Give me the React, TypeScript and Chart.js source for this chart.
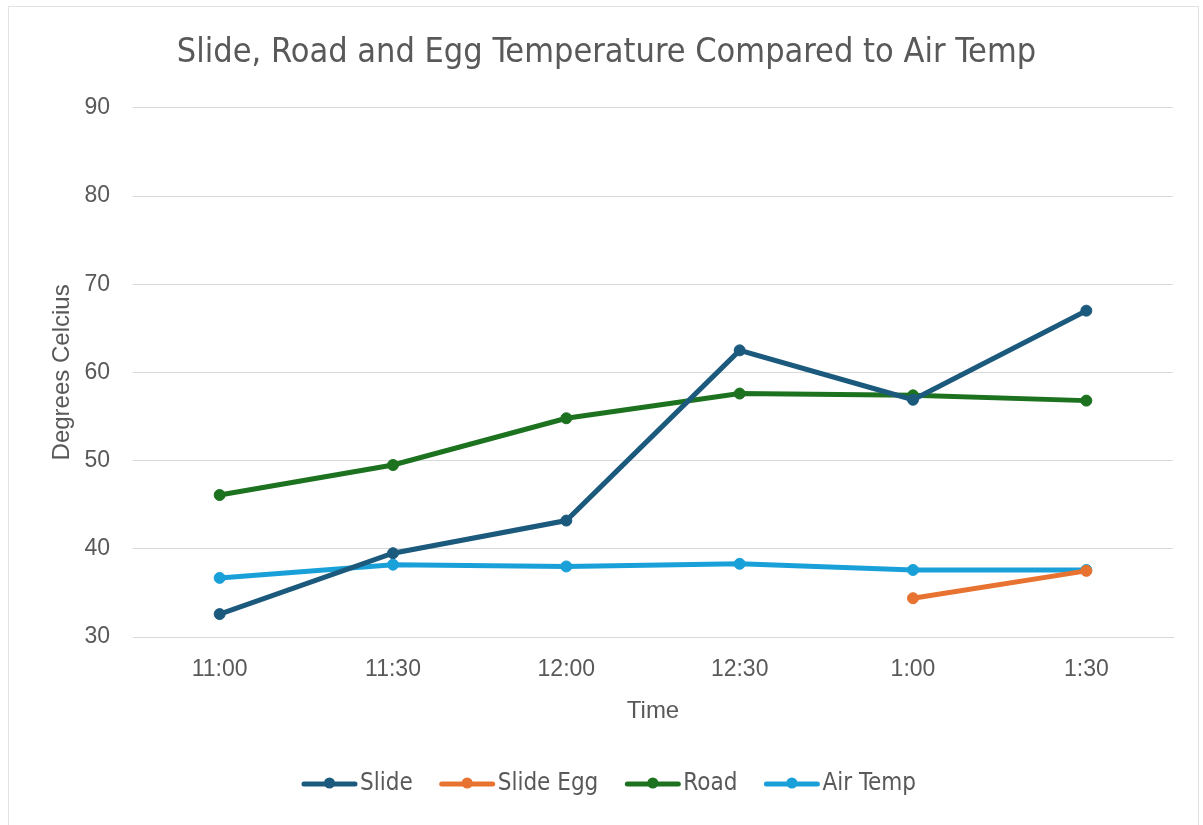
import { useEffect, useRef } from "react";
import { Chart, registerables } from "chart.js";

Chart.register(...registerables);

const categories = ["11:00", "11:30", "12:00", "12:30", "1:00", "1:30"];
const slide = [32.6, 39.5, 43.2, 62.5, 56.9, 67.0];
const slideEgg = [null, null, null, null, 34.4, 37.5];
const road = [46.1, 49.5, 54.8, 57.6, 57.4, 56.8];
const airTemp = [36.7, 38.2, 38.0, 38.3, 37.6, 37.6];
const seriesNames = ["Slide", "Slide Egg", "Road", "Air Temp"];
const seriesColors = ["#1c5a7d", "#e8722f", "#1d7220", "#1aa0d9"];
const yMin = 30;
const yMax = 90;
const yStep = 10;

const TEXT = "#595959";
const GRID = "#d9d9d9";
const NARROW = "'Liberation Sans Narrow', 'DejaVu Sans Condensed', 'Roboto Condensed', Roboto, sans-serif";
const SANS = "'Liberation Sans', Arial, sans-serif";

const frameAndLegend = {
  id: "frameAndLegend",
  beforeDraw(chart: any) {
    const ctx = chart.ctx;
    ctx.save();
    ctx.fillStyle = "#ffffff";
    ctx.fillRect(0, 0, chart.width, chart.height);
    ctx.strokeStyle = "#e3e3e3";
    ctx.lineWidth = 1;
    ctx.strokeRect(8.5, 6.5, 1190, 830);
    ctx.restore();
  },
  afterDraw(chart: any) {
    const ctx = chart.ctx;
    ctx.save();
    ctx.font = `24px ${NARROW}`;
    const lineLen = 55;
    const textGap = 3;
    const itemGap = 27;
    const widths = seriesNames.map((n) => lineLen + textGap + ctx.measureText(n).width);
    const total = widths.reduce((a, b) => a + b, 0) + itemGap * (seriesNames.length - 1);
    let x = 609 - total / 2;
    const y = 784;
    seriesNames.forEach((name, i) => {
      ctx.strokeStyle = seriesColors[i];
      ctx.fillStyle = seriesColors[i];
      ctx.lineWidth = 5;
      ctx.lineCap = "round";
      ctx.beginPath();
      ctx.moveTo(x + 2, y);
      ctx.lineTo(x + lineLen - 2, y);
      ctx.stroke();
      ctx.beginPath();
      ctx.arc(x + lineLen / 2, y - 1, 5.5, 0, Math.PI * 2);
      ctx.fill();
      ctx.fillStyle = TEXT;
      ctx.textBaseline = "middle";
      ctx.textAlign = "left";
      ctx.fillText(name, x + lineLen + textGap, y);
      x += widths[i] + itemGap;
    });
    ctx.restore();
  },
};

export default function App() {
  const ref = useRef<HTMLCanvasElement>(null);
  useEffect(() => {
    if (!ref.current) return;
    const data = [slide, slideEgg, road, airTemp];
    const chart = new Chart(ref.current, {
      type: "line",
      data: {
        labels: categories,
        datasets: seriesNames.map((name, i) => ({
          label: name,
          data: data[i] as any,
          borderColor: seriesColors[i],
          backgroundColor: seriesColors[i],
          pointBackgroundColor: seriesColors[i],
          pointBorderColor: seriesColors[i],
          borderWidth: 5,
          pointRadius: 5.5,
          pointBorderWidth: 1,
          tension: 0,
          spanGaps: false,
        })),
      },
      options: {
        animation: false,
        responsive: true,
        maintainAspectRatio: false,
        layout: { padding: { left: 40, right: 30, top: 0, bottom: 90 } },
        plugins: {
          legend: { display: false },
          tooltip: { enabled: false },
          title: {
            display: true,
            text: "Slide, Road and Egg Temperature Compared to Air Temp",
            color: TEXT,
            font: { family: NARROW, size: 34, weight: "normal" as any },
            padding: { top: 33, bottom: 34 },
          },
        },
        scales: {
          x: {
            offset: true,
            grid: { display: false, drawTicks: false },
            border: { display: true, color: GRID, width: 1 },
            ticks: { color: TEXT, font: { family: SANS, size: 23 }, padding: 19 },
            title: {
              display: true,
              text: "Time",
              color: TEXT,
              font: { family: SANS, size: 24 },
              padding: { top: 0, bottom: 9 },
            },
            afterFit: (s: any) => {
              s.height = 98;
            },
          },
          y: {
            min: yMin,
            max: yMax,
            grid: { color: GRID, lineWidth: 1, drawTicks: false },
            border: { display: false },
            ticks: { stepSize: yStep, color: TEXT, font: { family: SANS, size: 23 }, padding: 23 },
            title: {
              display: true,
              text: "Degrees Celcius",
              color: TEXT,
              font: { family: SANS, size: 24 },
              padding: { top: 8, bottom: 0 },
            },
            afterFit: (s: any) => {
              s.width = 93;
            },
          },
        },
      },
      plugins: [frameAndLegend],
    });
    return () => chart.destroy();
  }, []);
  return (
    <div style={{ position: "absolute", left: 0, top: 0, width: 1203, height: 825, background: "#fff" }}>
      <canvas ref={ref} />
    </div>
  );
}
